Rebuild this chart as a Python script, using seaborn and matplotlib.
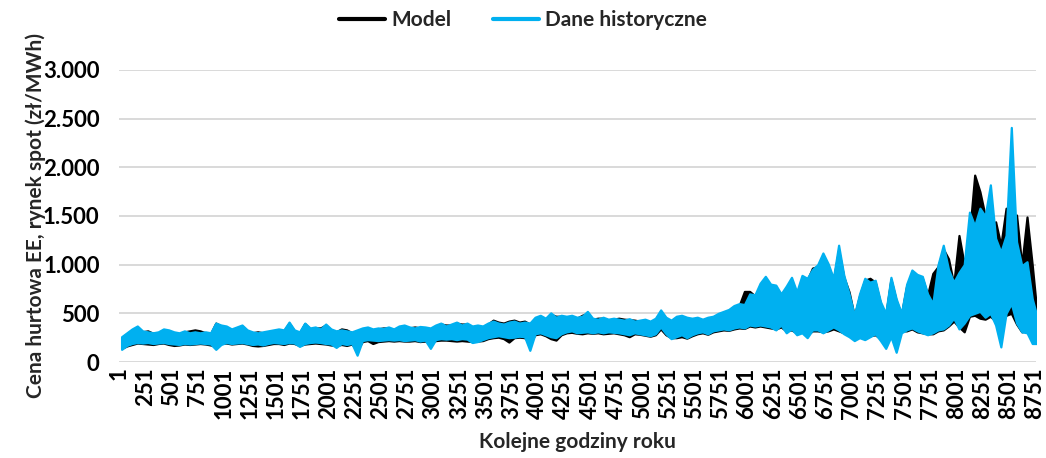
import matplotlib
matplotlib.use("Agg")
import matplotlib.pyplot as plt
from matplotlib.ticker import FuncFormatter
import numpy as np
import pandas as pd
import seaborn as sns

BLOCK = 50
N_HOURS = 8760

hist_hi = [
    260, 300, 340, 370, 320, 310, 300, 310, 340, 330,
    310, 300, 320, 300, 310, 300, 310, 300, 400, 380,
    370, 340, 360, 380, 330, 310, 300, 310, 320, 330,
    340, 330, 410, 330, 310, 400, 350, 360, 340, 390,
    340, 320, 330, 320, 310, 330, 350, 360, 340, 350,
    345, 360, 340, 370, 380, 360, 350, 365, 360, 350,
    380, 400, 370, 390, 410, 380, 400, 370, 380, 370,
    400, 420, 400, 390, 410, 420, 400, 410, 400, 460,
    480, 450, 505, 460, 480, 470, 480, 460, 470, 520,
    450, 440, 460, 440, 450, 440, 430, 445, 420, 430,
    440, 420, 450, 535, 460, 430, 470, 480, 460, 450,
    460, 440, 460, 470, 500, 520, 540, 580, 600, 590,
    700, 690, 810, 880, 800, 790, 700, 780, 870, 720,
    890, 860, 950, 1000, 1120, 1010, 860, 1200, 890, 700,
    480, 700, 860, 820, 840, 620, 500, 870, 650, 500,
    800, 945, 900, 880, 700, 600, 1000, 1200, 950, 820,
    920, 1000, 1540, 1400, 1580, 1500, 1820, 1270, 1130, 1300,
    2410, 1235, 990, 1030, 650, 450,
]
hist_lo = [
    130, 170, 190, 200, 195, 200, 190, 195, 200, 190,
    185, 180, 190, 185, 190, 195, 190, 185, 130, 180,
    200, 190, 195, 200, 190, 180, 185, 175, 190, 200,
    195, 190, 200, 195, 160, 190, 200, 205, 200, 190,
    185, 150, 190, 180, 190, 70, 220, 230, 225, 220,
    225, 230, 225, 230, 220, 225, 230, 215, 225, 140,
    230, 240, 235, 240, 230, 240, 235, 200, 210, 230,
    250, 260, 270, 260, 250, 255, 265, 260, 120, 290,
    300, 280, 260, 250, 290, 310, 320, 300, 305, 310,
    300, 310, 300, 310, 305, 300, 290, 280, 300, 290,
    280, 270, 290, 360, 290, 240, 260, 280, 250, 280,
    300, 310, 290, 320, 330, 340, 330, 350, 360, 350,
    380, 370, 380, 370, 360, 330, 380, 300, 340, 280,
    300, 250, 330, 330, 300, 330, 360, 330, 290, 260,
    220, 250, 230, 260, 290, 220, 140, 260, 100, 300,
    330, 350, 320, 300, 280, 300, 330, 340, 380, 450,
    340, 400, 480, 500, 520, 460, 500, 380, 155, 500,
    600, 400, 310, 300, 190, 190,
]
model_hi = [
    250, 290, 330, 350, 310, 320, 295, 300, 330, 320,
    300, 290, 310, 320, 330, 320, 300, 290, 400, 370,
    360, 330, 350, 370, 320, 300, 310, 300, 310, 320,
    330, 320, 400, 320, 300, 395, 340, 350, 350, 380,
    330, 310, 340, 330, 300, 320, 340, 350, 330, 340,
    350, 350, 330, 360, 370, 350, 360, 350, 350, 340,
    370, 390, 380, 380, 400, 390, 390, 360, 370, 360,
    390, 430, 410, 400, 420, 430, 410, 420, 390, 450,
    470, 440, 490, 470, 470, 460, 470, 450, 480, 500,
    440, 450, 450, 430, 440, 450, 440, 435, 430, 420,
    430, 410, 440, 510, 450, 420, 460, 470, 450, 440,
    450, 430, 450, 460, 490, 510, 530, 570, 580, 725,
    725, 680, 780, 840, 780, 760, 690, 760, 775, 700,
    860, 840, 965, 980, 1080, 990, 840, 1150, 870, 720,
    470, 680, 840, 860, 820, 600, 480, 850, 630, 490,
    780, 900, 890, 860, 690, 910, 980, 1160, 1060, 800,
    1300, 1000, 1300, 1920, 1750, 1500, 1400, 1440, 1200, 1580,
    1050, 1510, 995, 1490, 995, 450,
]
model_lo = [
    140, 165, 180, 195, 190, 185, 180, 190, 195, 180,
    170, 175, 185, 180, 185, 190, 185, 175, 160, 190,
    195, 185, 190, 195, 185, 170, 165, 170, 180, 190,
    190, 180, 195, 190, 170, 185, 190, 195, 190, 185,
    175, 170, 180, 170, 185, 120, 210, 220, 190, 210,
    215, 220, 215, 220, 215, 215, 220, 210, 215, 200,
    220, 225, 225, 220, 215, 220, 215, 210, 215, 220,
    240, 250, 255, 240, 205, 250, 255, 250, 200, 280,
    290, 270, 240, 225, 280, 300, 305, 295, 290, 300,
    295, 300, 290, 295, 300, 290, 280, 260, 290, 285,
    275, 265, 280, 340, 280, 250, 250, 260, 245, 270,
    290, 300, 285, 310, 320, 330, 325, 340, 350, 345,
    370, 360, 370, 360, 350, 340, 360, 320, 330, 300,
    310, 280, 320, 320, 310, 320, 340, 320, 300, 280,
    240, 260, 250, 270, 280, 240, 200, 270, 240, 320,
    320, 340, 310, 300, 290, 290, 320, 330, 370, 420,
    360, 310, 470, 480, 450, 440, 470, 420, 400, 480,
    500, 390, 310, 320, 280, 220,
]

SERIES = ["Model", "Dane historyczne"]
COLORS = {"Model": "#000000", "Dane historyczne": "#00B0F0"}
X_TICKS = list(range(1, N_HOURS + 1, 250))
Y_TICKS = [0, 500, 1000, 1500, 2000, 2500, 3000]


def block_frame(name: str, hi: list[int], lo: list[int]) -> pd.DataFrame:
    hours = np.arange(len(hi)) * BLOCK + BLOCK // 2
    return pd.DataFrame({
        "godzina": np.concatenate([hours, hours]),
        "cena": np.concatenate([hi, lo]),
        "seria": name,
    })


df = pd.concat([
    block_frame("Model", model_hi, model_lo),
    block_frame("Dane historyczne", hist_hi, hist_lo),
], ignore_index=True)

sns.set_theme(style="white")
plt.rcParams["font.family"] = ["Lato", "DejaVu Sans"]
plt.rcParams["font.weight"] = "bold"
plt.rcParams["axes.labelweight"] = "bold"
plt.rcParams["font.size"] = 15

fig = plt.figure(figsize=(10.46, 4.58), dpi=100)
ax = fig.add_axes([0.1138, 0.2096, 0.8766, 0.6376])

# band between block min and max, the mean line itself is hidden
for name in SERIES:
    color = COLORS[name]
    sns.lineplot(
        data=df[df["seria"] == name], x="godzina", y="cena",
        estimator="mean", errorbar=lambda s: (s.min(), s.max()),
        color=color, linewidth=0, label=name, ax=ax,
        err_kws={"alpha": 1, "linewidth": 1.6, "edgecolor": color},
    )

ax.set_xlim(0.5, N_HOURS + 0.5)
ax.set_ylim(0, 3000)
ax.set_xticks(X_TICKS)
ax.set_xticklabels([str(t) for t in X_TICKS], rotation=90)
ax.set_yticks(Y_TICKS)
ax.yaxis.set_major_formatter(FuncFormatter(lambda v, p: f"{v:,.0f}".replace(",", ".")))
ax.tick_params(axis="both", length=0, labelsize=16, colors="#000000")
ax.tick_params(axis="y", pad=14)
ax.tick_params(axis="x", pad=4)
ax.grid(axis="y", color="#D9D9D9", linewidth=1.4)
ax.grid(axis="x", visible=False)
ax.set_axisbelow(True)
for side in ax.spines.values():
    side.set_visible(False)

ax.set_xlabel("Kolejne godziny roku", fontsize=15, labelpad=9)
ax.set_ylabel("Cena hurtowa EE, rynek spot (zł/MWh)", fontsize=15, labelpad=-2)

handles, labels = ax.get_legend_handles_labels()
ax.get_legend().remove()
leg = fig.legend(
    handles, labels, loc="center", bbox_to_anchor=(0.5, 0.956), ncol=2,
    frameon=False, fontsize=15, handlelength=2.2, handletextpad=0.3,
    columnspacing=2.0,
)
for h in leg.legend_handles:
    h.set_linewidth(3)

fig.savefig("out.png", dpi=100)
